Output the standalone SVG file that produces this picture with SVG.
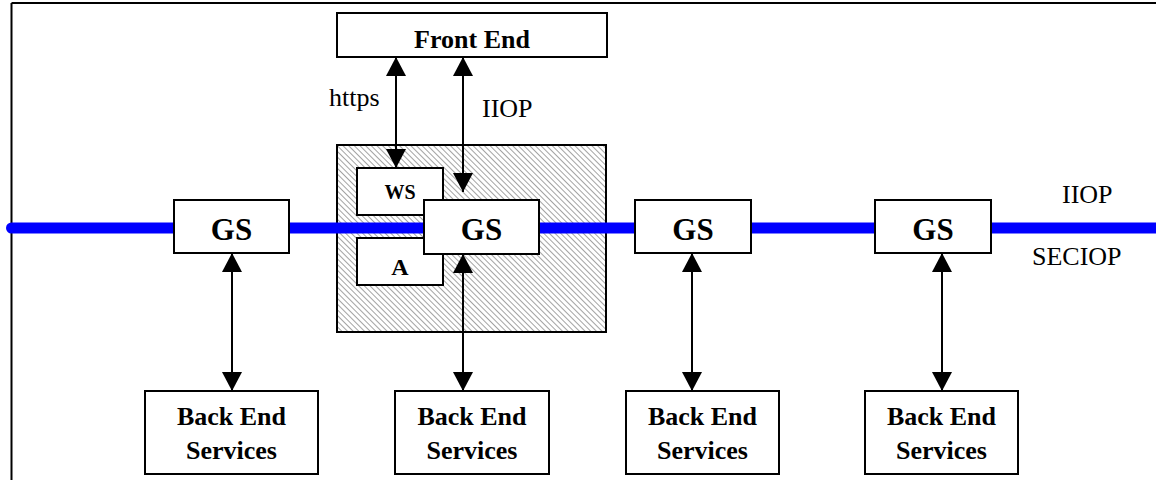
<svg xmlns="http://www.w3.org/2000/svg" width="1156" height="480" viewBox="0 0 1156 480">
<style>
  .box { fill: #fff; stroke: #000; stroke-width: 2; }
  .lbl { font-family: "Liberation Serif", "Times New Roman", serif; font-weight: bold; text-anchor: middle; fill: #000; }
  .txt { font-family: "Liberation Serif", "Times New Roman", serif; fill: #000; font-size: 26px; }
  .arrow { stroke: #000; stroke-width: 2; fill: none; marker-start: url(#ah); marker-end: url(#ah); }
</style>
<defs>
  <marker id="ah" markerUnits="userSpaceOnUse" markerWidth="20" markerHeight="20" refX="19" refY="10" orient="auto-start-reverse" viewBox="0 0 20 20">
    <path d="M0,0 L19,10 L0,20 Z" fill="#000"/>
  </marker>
  <pattern id="hatch" patternUnits="userSpaceOnUse" width="4" height="4" patternTransform="rotate(45)">
    <rect width="4" height="4" fill="#fff"/>
    <line x1="0" y1="0" x2="4" y2="0" stroke="#8c8c8c" stroke-width="1.6"/>
  </pattern>
</defs>

<g id="frame">
  <line x1="11.5" y1="3" x2="1156" y2="3" stroke="#000" stroke-width="2"/>
  <line x1="11.5" y1="3" x2="11.5" y2="480" stroke="#000" stroke-width="2"/>
</g>

<g id="gateway-area">
  <rect x="337" y="145" width="269" height="187" fill="url(#hatch)" stroke="#000" stroke-width="2"/>
</g>

<g id="bus">
  <line x1="11.5" y1="228" x2="1160" y2="228" stroke="#0000ff" stroke-width="11" stroke-linecap="round"/>
</g>

<g id="connectors">
  <line class="arrow" x1="396" y1="57" x2="396" y2="168"/>
  <line class="arrow" x1="463" y1="57" x2="463" y2="192"/>
  <line class="arrow" x1="463" y1="254" x2="463" y2="391"/>
  <line class="arrow" x1="232" y1="253" x2="232" y2="391"/>
  <line class="arrow" x1="692" y1="253" x2="692" y2="391"/>
  <line class="arrow" x1="942" y1="253" x2="942" y2="391"/>
</g>

<g id="front-end">
  <rect class="box" x="337" y="13" width="270" height="44"/>
  <text class="lbl" x="472" y="48" font-size="26">Front End</text>
</g>

<g id="ws">
  <rect class="box" x="357" y="168" width="86" height="47"/>
  <text class="lbl" x="400" y="199" font-size="20">WS</text>
</g>

<g id="a">
  <rect class="box" x="357" y="238" width="86" height="47"/>
  <text class="lbl" x="400" y="275" font-size="24">A</text>
</g>

<g id="gs1">
  <rect class="box" x="174" y="200" width="115" height="53"/>
  <text class="lbl" x="231.5" y="240" font-size="31">GS</text>
</g>
<g id="gs2">
  <rect class="box" x="424" y="200" width="115" height="54"/>
  <text class="lbl" x="481.5" y="240" font-size="31">GS</text>
</g>
<g id="gs3">
  <rect class="box" x="635" y="200" width="116" height="53"/>
  <text class="lbl" x="693" y="240" font-size="31">GS</text>
</g>
<g id="gs4">
  <rect class="box" x="875" y="200" width="116" height="53"/>
  <text class="lbl" x="933" y="240" font-size="31">GS</text>
</g>

<g id="be1">
  <rect class="box" x="145" y="391" width="173" height="83"/>
  <text class="lbl" x="231.5" y="425" font-size="26">Back End</text>
  <text class="lbl" x="231.5" y="459" font-size="26">Services</text>
</g>
<g id="be2">
  <rect class="box" x="395" y="391" width="154" height="83"/>
  <text class="lbl" x="472" y="425" font-size="26">Back End</text>
  <text class="lbl" x="472" y="459" font-size="26">Services</text>
</g>
<g id="be3">
  <rect class="box" x="626" y="391" width="153" height="83"/>
  <text class="lbl" x="702.5" y="425" font-size="26">Back End</text>
  <text class="lbl" x="702.5" y="459" font-size="26">Services</text>
</g>
<g id="be4">
  <rect class="box" x="865" y="391" width="153" height="83"/>
  <text class="lbl" x="941.5" y="425" font-size="26">Back End</text>
  <text class="lbl" x="941.5" y="459" font-size="26">Services</text>
</g>

<g id="labels">
  <text class="txt" x="329" y="106">https</text>
  <text class="txt" x="482" y="117" font-size="25">IIOP</text>
  <text class="txt" x="1062" y="203">IIOP</text>
  <text class="txt" x="1032" y="265" font-size="27">SECIOP</text>
</g>
</svg>
